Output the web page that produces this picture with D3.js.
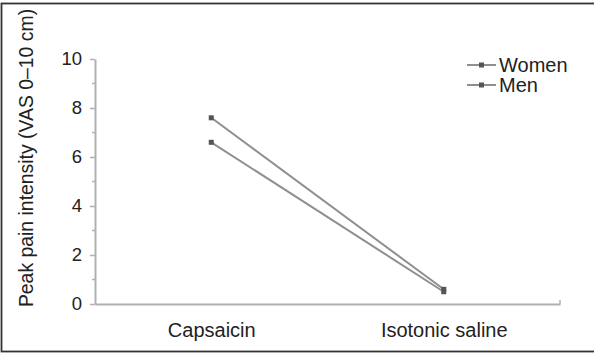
<!DOCTYPE html>
<html>
<head>
<meta charset="utf-8">
<script src="https://cdn.jsdelivr.net/npm/d3@7"></script>
<style>
  body { margin: 0; background: #fff; }
  text { font-family: "Liberation Sans", Arial, sans-serif; fill: #222; }
</style>
</head>
<body>
<script>
// data
var conditions = ["Capsaicin", "Isotonic saline"];
var seriesNames = ["Women", "Men"];
var women = [7.6, 0.6];
var men = [6.6, 0.5];
var yTicks = [0, 2, 4, 6, 8, 10];

var w = 594, h = 354;
var margin = {left: 95, right: 34, top: 59, bottom: 50};

var svg = d3.select("body").append("svg")
    .attr("width", w)
    .attr("height", h);

// outer frame (right side falls off the picture)
svg.append("rect")
    .attr("x", 1.5).attr("y", 3.5)
    .attr("width", 600).attr("height", 348)
    .attr("fill", "none")
    .attr("stroke", "#333")
    .attr("stroke-width", 1.8);

var x = d3.scalePoint()
    .domain(conditions)
    .range([margin.left, w - margin.right])
    .padding(0.5);

var y = d3.scaleLinear()
    .domain([0, 10])
    .range([h - margin.bottom, margin.top]);

var axisColor = "#b0b0b0";

// y axis
var yAxis = svg.append("g")
    .attr("transform", "translate(" + margin.left + ",0)")
    .call(d3.axisLeft(y).tickValues(yTicks).tickSize(5).tickPadding(8).tickSizeOuter(0));
yAxis.select(".domain").attr("stroke", axisColor).attr("stroke-width", 2);
yAxis.selectAll(".tick line").attr("stroke", axisColor).attr("stroke-width", 1.5);
yAxis.selectAll(".tick text").style("font-size", "18.5px").attr("fill", "#222");

// minor ticks
svg.append("g").selectAll("line")
    .data(d3.range(1, 10, 2))
    .enter().append("line")
    .attr("x1", margin.left - 3).attr("x2", margin.left)
    .attr("y1", d => y(d)).attr("y2", d => y(d))
    .attr("stroke", axisColor).attr("stroke-width", 1.5);

// x axis
var xAxis = svg.append("g")
    .attr("transform", "translate(0," + (h - margin.bottom) + ")")
    .call(d3.axisBottom(x).tickSize(0).tickPadding(19).tickSizeOuter(0));
xAxis.select(".domain").attr("stroke", axisColor).attr("stroke-width", 2);
xAxis.selectAll(".tick text").style("font-size", "20px").attr("fill", "#222");
// little end tick at the right
svg.append("line")
    .attr("x1", w - margin.right).attr("x2", w - margin.right)
    .attr("y1", y(0) - 4).attr("y2", y(0))
    .attr("stroke", axisColor).attr("stroke-width", 1.5);

// y label
svg.append("text")
    .attr("transform", "translate(33,158) rotate(-90)")
    .attr("text-anchor", "middle")
    .style("font-size", "19.4px")
    .text("Peak pain intensity (VAS 0\u201310 cm)");

var series = [women, men];
var line = d3.line()
    .x((d, i) => x(conditions[i]))
    .y(d => y(d));

series.forEach(function(vals) {
    svg.append("path")
        .datum(vals)
        .attr("d", line)
        .attr("fill", "none")
        .attr("stroke", "#8f8f8f")
        .attr("stroke-width", 2);
    svg.append("g").selectAll("rect")
        .data(vals)
        .enter().append("rect")
        .attr("x", (d, i) => x(conditions[i]) - 2.5)
        .attr("y", d => y(d) - 2.5)
        .attr("width", 5).attr("height", 5)
        .attr("fill", "#555");
});

// legend
var legend = svg.append("g").selectAll("g")
    .data(seriesNames)
    .enter().append("g")
    .attr("transform", (d, i) => "translate(467," + (65 + i * 20) + ")");
legend.append("line")
    .attr("x1", 0).attr("x2", 29)
    .attr("stroke", "#8f8f8f").attr("stroke-width", 2);
legend.append("rect")
    .attr("x", 12).attr("y", -2.5).attr("width", 5).attr("height", 5)
    .attr("fill", "#555");
legend.append("text")
    .attr("x", 32).attr("dy", "0.35em")
    .style("font-size", "20px")
    .text(d => d);
</script>
</body>
</html>
